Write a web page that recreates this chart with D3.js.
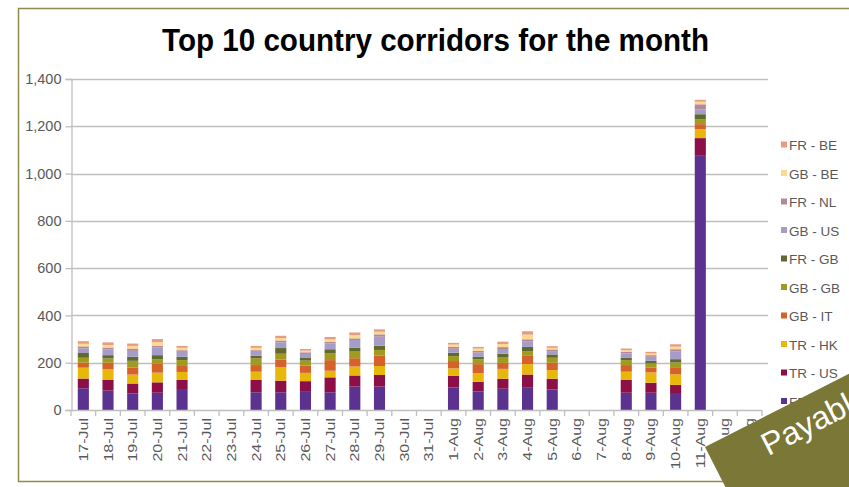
<!DOCTYPE html>
<html><head><meta charset="utf-8">
<script src="https://cdn.jsdelivr.net/npm/d3@7"></script>
<style>html,body{margin:0;padding:0;background:#fff;}svg{display:block;}</style>
</head><body>
<svg id="c" width="849" height="487"></svg>
<script>
const dates = ["17-Jul","18-Jul","19-Jul","20-Jul","21-Jul","22-Jul","23-Jul","24-Jul","25-Jul","26-Jul","27-Jul","28-Jul","29-Jul","30-Jul","31-Jul","1-Aug","2-Aug","3-Aug","4-Aug","5-Aug","6-Aug","7-Aug","8-Aug","9-Aug","10-Aug","11-Aug","12-Aug","13-Aug"];
const seriesNames = ["FR - FR","TR - US","TR - HK","GB - IT","GB - GB","FR - GB","GB - US","FR - NL","GB - BE","FR - BE"];
const frfr = [92,82,70,73,85,0,0,75,75,80,75,99,99,0,0,95,78,90,94,87,0,0,73,73,68,1078,0,0];
const trus = [41,45,42,44,42,0,0,52,49,42,63,47,49,0,0,49,41,42,56,45,0,0,54,42,38,72,0,0];
const trhk = [46,45,38,41,34,0,0,35,58,35,28,38,38,0,0,32,37,42,44,37,0,0,35,44,45,38,0,0];
const gbit = [21,28,30,39,25,0,0,28,31,31,45,35,44,0,0,31,38,25,35,31,0,0,28,21,30,21,0,0];
const gbgb = [21,18,28,17,25,0,0,28,25,21,28,28,24,0,0,21,21,25,20,21,0,0,21,17,20,21,0,0];
const frgb = [20,14,17,18,14,0,0,11,24,11,18,17,18,0,0,14,11,14,18,14,0,0,11,11,14,21,0,0];
const gbus = [20,24,25,32,21,0,0,17,24,17,24,32,38,0,0,17,17,20,24,14,0,0,17,17,32,21,0,0];
const frnl = [8,8,10,7,7,0,0,7,8,7,7,7,10,0,0,8,7,8,8,7,0,0,7,7,10,21,0,0];
const gbbe = [11,11,11,16,10,0,0,10,10,7,11,14,11,0,0,10,10,13,20,7,0,0,7,7,11,11,0,0];
const frbe = [11,11,10,13,8,0,0,8,10,7,10,11,10,0,0,7,7,10,14,7,0,0,7,7,10,8,0,0];
const colors = ["#5c3290","#8c0f48","#e8b70c","#d4622a","#a09a1e","#5e6a30","#a69cc8","#b4889b","#fbd98e","#e59c82"];
const yTicks = [0,200,400,600,800,1000,1200,1400];
const title = "Top 10 country corridors for the month";
const bannerText = "Payable";

const seriesValues = [frfr,trus,trhk,gbit,gbgb,frgb,gbus,frnl,gbbe,frbe];
const table = dates.map((d,i)=>{const o={date:d}; seriesNames.forEach((s,j)=>o[s]=seriesValues[j][i]); return o;});

const svg = d3.select("#c");
const L=71, R=762, T=79, B=410;
const x = d3.scaleBand().domain(dates).range([L,R]).paddingInner(0.55).paddingOuter(0.275);
const y = d3.scaleLinear().domain([0,1400]).range([B,T]);
const grey = "#595959", axisC="#bfbfbf";

// frame
svg.append("path").attr("d","M849,8.5 H18.5 V481.5 H849").attr("fill","none").attr("stroke","#8f8b4a").attr("stroke-width",1.5);

// title
svg.append("text").attr("x",162).attr("y",51).attr("textLength",547).attr("lengthAdjust","spacingAndGlyphs")
  .attr("font-family","Liberation Sans, Arial, sans-serif").attr("font-weight","bold").attr("font-size",32).attr("fill","#000").text(title);

// gridlines
svg.append("g").selectAll("line").data(yTicks.filter(v=>v>0)).join("line")
  .attr("x1",L).attr("x2",R+6).attr("y1",d=>Math.round(y(d))+0.5).attr("y2",d=>Math.round(y(d))+0.5)
  .attr("stroke",axisC).attr("stroke-width",1.3);

// y axis
const ya = svg.append("g").attr("transform",`translate(${L+0.5},0)`).call(d3.axisLeft(y).tickValues(yTicks).tickSize(6).tickFormat(d3.format(",")));
ya.select(".domain").attr("stroke",axisC).attr("stroke-width",1.3);
ya.selectAll(".tick line").attr("stroke",axisC).attr("stroke-width",1.3);
ya.selectAll(".tick text").attr("fill",grey).attr("font-size",14.5).attr("font-family","Liberation Sans, Arial, sans-serif").attr("x",-10);

// bars
const stack = d3.stack().keys(seriesNames)(table);
svg.append("g").selectAll("g").data(stack).join("g").attr("fill",(d,i)=>colors[i])
  .selectAll("rect").data(d=>d).join("rect")
  .attr("x",d=>x(d.data.date)).attr("width",x.bandwidth())
  .attr("y",d=>y(d[1])).attr("height",d=>y(d[0])-y(d[1]));

// x axis
const step = x.step();
svg.append("line").attr("x1",L).attr("x2",R).attr("y1",B+0.5).attr("y2",B+0.5).attr("stroke",axisC).attr("stroke-width",1.3);
const bounds = dates.map(d=>x(d)-(step-x.bandwidth())/2).concat([R]);
svg.append("g").selectAll("line").data(bounds).join("line")
  .attr("x1",d=>d).attr("x2",d=>d).attr("y1",B).attr("y2",B+6).attr("stroke",axisC).attr("stroke-width",1.3);
svg.append("g").selectAll("text").data(dates).join("text")
  .attr("transform",d=>`translate(${x(d)+x.bandwidth()/2+4.5},418) rotate(-90) scale(1,0.75)`)
  .attr("text-anchor","end").attr("font-size",16).attr("fill",grey)
  .attr("font-family","Liberation Sans, Arial, sans-serif").text(d=>d);

// legend
const lg = svg.append("g");
const legendOrder = seriesNames.map((s,i)=>({s,c:colors[i]})).reverse();
legendOrder.forEach((o,i)=>{
  const cy = 145 + i*28.5;
  lg.append("rect").attr("x",781).attr("y",cy-3.5).attr("width",6).attr("height",6).attr("fill",o.c);
  lg.append("text").attr("x",789).attr("y",cy+5).attr("font-size",13.5).attr("fill",grey)
    .attr("font-family","Liberation Sans, Arial, sans-serif").text(o.s);
});

// banner
const bn = svg.append("g").attr("transform","translate(705,447) rotate(-27)");
bn.append("rect").attr("x",0).attr("y",0).attr("width",320).attr("height",120).attr("fill","#7b7737");
bn.append("text").attr("x",52).attr("y",37).attr("font-size",32).attr("fill","#fff")
  .attr("font-family","Liberation Sans, Arial, sans-serif").text(bannerText);
</script>
</body></html>
